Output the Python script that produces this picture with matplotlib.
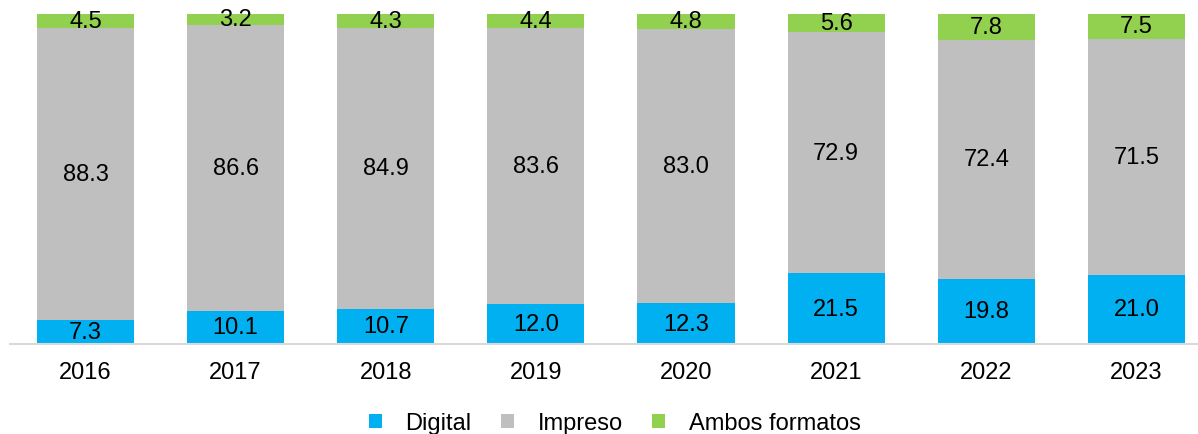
import matplotlib
matplotlib.use("Agg")
import matplotlib.pyplot as plt
from matplotlib.patches import Patch
import numpy as np

years = ["2016", "2017", "2018", "2019", "2020", "2021", "2022", "2023"]
digital = [7.3, 10.1, 10.7, 12.0, 12.3, 21.5, 19.8, 21.0]
impreso = [88.3, 86.6, 84.9, 83.6, 83.0, 72.9, 72.4, 71.5]
ambos = [4.5, 3.2, 4.3, 4.4, 4.8, 5.6, 7.8, 7.5]
series_names = ["Digital", "Impreso", "Ambos formatos"]
colors = ["#00B0F0", "#BFBFBF", "#92D050"]

plt.rcParams['font.family'] = ['Liberation Sans', 'DejaVu Sans']
W, H = 1198, 435
fig = plt.figure(figsize=(W / 100, H / 100), dpi=100)
left_px, right_px = 10, 1198
base_px, top_px = 345.0, 14.8
ax = fig.add_axes([left_px / W, (H - base_px) / H, (right_px - left_px) / W, (base_px - top_px) / H])

x = np.arange(len(years))
width = 0.647
bottom = np.zeros(len(years))
fs = 17
for vals, c, name in zip([digital, impreso, ambos], colors, series_names):
    vals = np.array(vals)
    ax.bar(x, vals, width, bottom=bottom, color=c, label=name, edgecolor='none')
    for xi, b, v in zip(x, bottom, vals):
        ax.text(xi, b + v / 2, f"{v:.1f}", ha='center', va='center', fontsize=fs, color='black')
    bottom += vals

ax.set_xlim(-0.503, 7.41)
ax.set_ylim(0, 100)
for s in ['top', 'right', 'left']:
    ax.spines[s].set_visible(False)
ax.spines['bottom'].set_color('#D9D9D9')
ax.spines['bottom'].set_linewidth(1.5)
ax.set_yticks([])
ax.set_xticks(x)
ax.set_xticklabels(years, fontsize=fs)
ax.tick_params(axis='x', length=0, pad=12)

handles = [Patch(facecolor=c, edgecolor='none') for c in colors]
fig.legend(handles, series_names, loc='center', bbox_to_anchor=(0.513, (H - 424) / H),
           ncol=3, frameon=False, fontsize=fs, handlelength=0.55, handleheight=0.55,
           handletextpad=1.0, columnspacing=1.25, borderaxespad=0, borderpad=0)

fig.savefig("out.png", dpi=100)
